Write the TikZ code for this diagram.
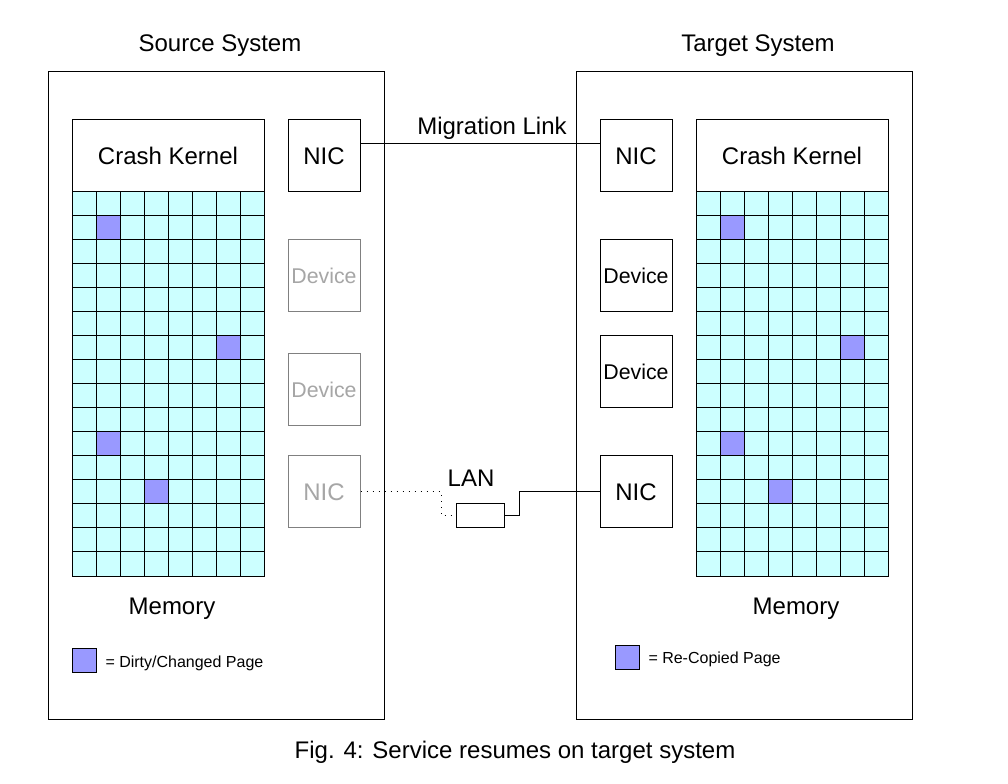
\documentclass[tikz,border=0pt]{standalone}
\usepackage{fontspec}
\setmainfont{Liberation Sans}
\usetikzlibrary{positioning,calc}

\definecolor{pagecyan}{HTML}{CCFFFF}
\definecolor{dirtyblue}{HTML}{9999FF}
\definecolor{dimline}{HTML}{808080}
\definecolor{dimtext}{HTML}{A6A6A6}

\tikzset{
  sysbox/.style={draw, minimum width=252pt, minimum height=485.25pt, inner sep=0pt},
  kernelbox/.style={draw, fill=white, minimum width=144pt, minimum height=54pt, inner sep=0pt, font=\fontsize{18}{20}\selectfont},
  devbox/.style={draw, fill=white, minimum width=54pt, minimum height=54pt, inner sep=0pt, font=\fontsize{16}{18}\selectfont},
  nicbox/.style={devbox, font=\fontsize{18}{20}\selectfont},
  dimbox/.style={draw=dimline, text=dimtext},
  label/.style={font=\fontsize{18}{20}\selectfont, inner sep=0pt},
  legend/.style={font=\fontsize{12}{14}\selectfont, inner sep=0pt, anchor=west},
  cell/.style={draw, fill=pagecyan},
  dirty/.style={draw, fill=dirtyblue}
}

\begin{document}
\begin{tikzpicture}[x=0.75pt, y=-0.75pt, line width=0.75pt]
   \useasboundingbox (0,0) rectangle (1008,784);

   % Systems
   \node[sysbox] (src) at (216,395.5) {};
   \node[sysbox] (tgt) at (744,395.5) {};
   \node[label] (srctitle) at (220,46) {Source System};
   \node[label] (tgttitle) at (758,46) {Target System};

   % Memory pages
   \foreach \ox in {72,696} {
     \foreach \i in {0,...,7}
       \foreach \j in {0,...,15}
         \draw[cell] (\ox+24*\i,192+24*\j) rectangle ++(24,24);
     \foreach \i/\j in {1/1,6/6,1/10,3/12}
       \draw[dirty] (\ox+24*\i,192+24*\j) rectangle ++(24,24);
   }

   % Source side
   \node[kernelbox] (srckernel) at (168,156) {Crash Kernel};
   \node[nicbox] (srcnic) at (324,156) {NIC};
   \node[devbox, dimbox] (srcdev1) at (324,276) {Device};
   \node[devbox, dimbox] (srcdev2) at (324,390) {Device};
   \node[nicbox, dimbox] (srclan) at (324,492) {NIC};
   \node[label] (srcmem) at (172,609) {Memory};

   % Target side
   \node[nicbox] (tgtnic) at (636,156) {NIC};
   \node[kernelbox] (tgtkernel) at (792,156) {Crash Kernel};
   \node[devbox] (tgtdev1) at (636,276) {Device};
   \node[devbox] (tgtdev2) at (636,372) {Device};
   \node[nicbox] (tgtlan) at (636,492) {NIC};
   \node[label] (tgtmem) at (796,609) {Memory};

   % Migration link
   \draw ([yshift=9pt]srcnic.east) -- ([yshift=9pt]tgtnic.west);
   \node[label] (linklabel) at (492,128) {Migration Link};

   % LAN
   \node[draw, minimum width=36pt, minimum height=18pt, inner sep=0pt] (lanbox) at (480,516) {};
   \node[label] (lanlabel) at (471,478) {LAN};
   \coordinate (landrop) at (441,516);
   \coordinate (lanrise) at (519,516);
   \draw[dash pattern=on 0.75pt off 3.75pt] (srclan.east) -| (landrop) -- (lanbox.west);
   \draw (lanbox.east) -- (lanrise) |- (tgtlan.west);

   % Legends
   \node[dirty, minimum width=18pt, minimum height=18pt, inner sep=0pt] (srckey) at (84,660) {};
   \node[legend] (srckeytext) at (105,663) {= Dirty/Changed Page};
   \node[dirty, minimum width=18pt, minimum height=18pt, inner sep=0pt] (tgtkey) at (627,657) {};
   \node[legend] (tgtkeytext) at (648,659) {= Re-Copied Page};

   % Caption
   \node[label] (caption) at (515,752) {Fig. 4: Service resumes on target system};
\end{tikzpicture}
\end{document}
